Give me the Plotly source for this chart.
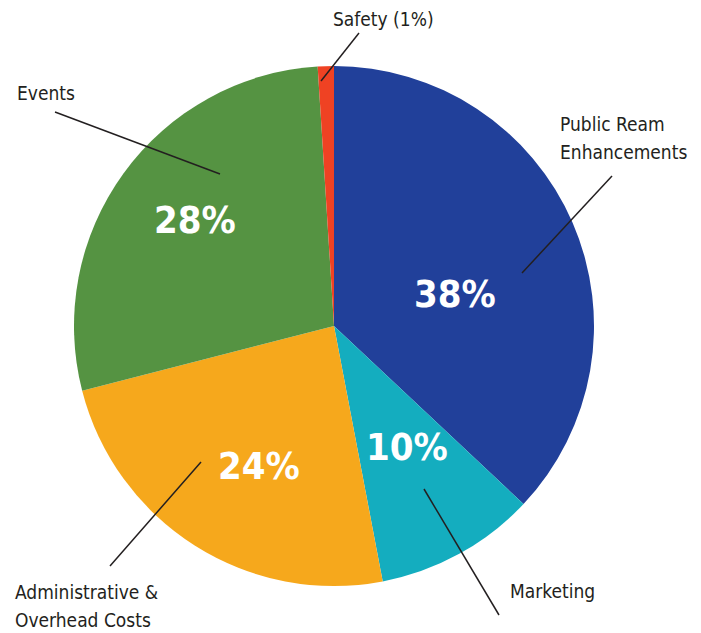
import plotly.graph_objects as go

W, H = 701, 633
OFF = 8  # page body margin offset

categories = ["Public Ream Enhancements", "Marketing", "Administrative & Overhead Costs", "Events", "Safety"]
values = [37, 10, 24, 28, 1]
pct_labels = ["38%", "10%", "24%", "28%", "1%"]
colors = ["#21409A", "#14ADBF", "#F6A81C", "#559342", "#EF4223"]

FONT = "DejaVu Sans Condensed, Liberation Sans Narrow, Roboto, sans-serif"

def px(x):
    return (x - OFF) / W

def py(y):
    return 1 - (y - OFF) / H

fig = go.Figure(go.Pie(
    labels=categories,
    values=values,
    marker=dict(colors=colors, line=dict(width=0)),
    sort=False,
    direction="clockwise",
    rotation=0,
    textinfo="none",
    hoverinfo="label+percent",
    showlegend=False,
    domain=dict(x=[px(74), px(594)], y=[py(586), py(66)]),
))

# percent labels inside slices
pct_pos = [(455, 294), (407, 447), (259, 466), (195, 220)]
for (x, y), t in zip(pct_pos, pct_labels[:4]):
    fig.add_annotation(x=px(x), y=py(y), xref="paper", yref="paper", text=t,
                       showarrow=False, font=dict(family=FONT, size=38, color="white", weight="bold"),
                       xanchor="center", yanchor="middle")

# outer labels (one annotation per line of text)
outer = [
    (f"{categories[4]} ({pct_labels[4]})", 383, 19, "center"),
    (categories[3], 15, 93, "left"),
    ("Public Ream", 558, 124, "left"),
    ("Enhancements", 558, 152, "left"),
    ("Administrative &amp;", 13, 592, "left"),
    ("Overhead Costs", 13, 620, "left"),
    (categories[1], 508, 591, "left"),
]
for t, x, y, anchor in outer:
    fig.add_annotation(x=px(x), y=py(y), xref="paper", yref="paper", text=t,
                       showarrow=False, align="left",
                       font=dict(family=FONT, size=19, color="#231F20"),
                       xanchor=anchor, yanchor="middle")

# leader lines
lines = [
    (359, 33, 321, 81),
    (55, 112, 220, 174),
    (612, 176, 522, 273),
    (201, 462, 110, 566),
    (424, 489, 499, 615),
]
for x0, y0, x1, y1 in lines:
    fig.add_shape(type="line", xref="paper", yref="paper",
                  x0=px(x0), y0=py(y0), x1=px(x1), y1=py(y1),
                  line=dict(color="#231F20", width=1.5))

fig.update_layout(
    width=W, height=H,
    margin=dict(l=0, r=0, t=0, b=0),
    paper_bgcolor="white",
    plot_bgcolor="white",
)

fig.write_html("out.html")
